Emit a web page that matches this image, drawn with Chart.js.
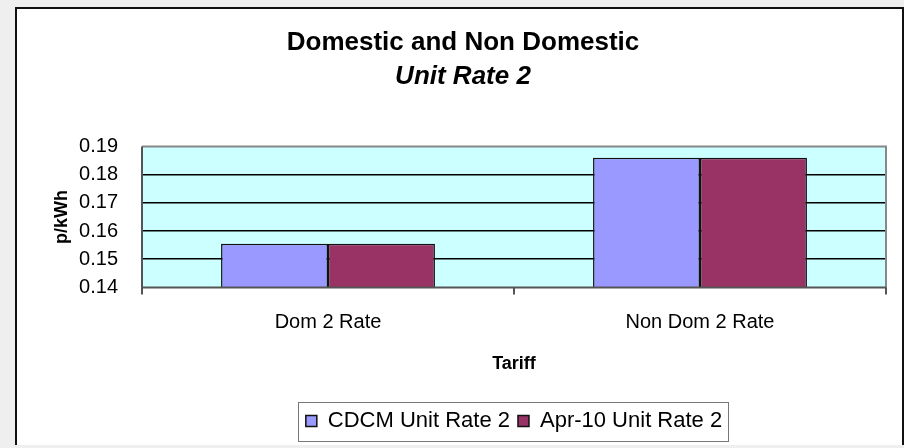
<!DOCTYPE html>
<html>
<head>
<meta charset="utf-8">
<script src="https://cdn.jsdelivr.net/npm/chart.js@4"></script>
<style>
  body { margin: 0; background: #efefef; }
  #panel { position: absolute; left: 15px; top: 7px; width: 885px; height: 436px;
           background: #fff; border: 2px solid #111; border-bottom: none; }
  #chart { position: absolute; left: 0; top: 0; }
</style>
</head>
<body>
<div id="panel"></div>
<canvas id="chart" width="904" height="448"></canvas>
<script>
const categories = ['Dom 2 Rate', 'Non Dom 2 Rate'];
const cdcmUnitRate2 = [0.1555, 0.186];
const apr10UnitRate2 = [0.1555, 0.186];
const yMin = 0.14, yMax = 0.19, yStep = 0.01;

const font = 'Liberation Sans, Arial, sans-serif';

// cyan plot area + grey frame, and a box round the legend
const plotFrame = {
    id: 'plotFrame',
    beforeDraw(chart) {
        const a = chart.chartArea, ctx = chart.ctx;
        ctx.save();
        ctx.fillStyle = '#ccffff';
        ctx.fillRect(a.left, a.top, a.right - a.left, a.bottom - a.top);
        ctx.restore();
    },
    afterDraw(chart) {
        const a = chart.chartArea, ctx = chart.ctx;
        ctx.save();
        ctx.strokeStyle = '#888';
        ctx.lineWidth = 2;
        ctx.beginPath();
        ctx.moveTo(a.left, a.top);
        ctx.lineTo(a.right, a.top);
        ctx.lineTo(a.right, a.bottom);
        ctx.stroke();
        ctx.strokeStyle = '#555';
        ctx.beginPath();
        ctx.moveTo(a.left, a.top);
        ctx.lineTo(a.left, a.bottom);
        ctx.lineTo(a.right, a.bottom);
        ctx.stroke();

        const boxes = chart.legend.legendHitBoxes;
        if (boxes && boxes.length) {
            const l = Math.min(...boxes.map(b => b.left)) - 8;
            const r = Math.max(...boxes.map(b => b.left + b.width)) + 6;
            const t = Math.min(...boxes.map(b => b.top)) - 8;
            const btm = Math.max(...boxes.map(b => b.top + b.height)) + 9;
            ctx.strokeStyle = '#777';
            ctx.lineWidth = 1;
            ctx.strokeRect(Math.round(l) + 0.5, Math.round(t) + 0.5, Math.round(r - l), Math.round(btm - t));
        }
        ctx.restore();
    }
};

new Chart(document.getElementById('chart'), {
    type: 'bar',
    data: {
        labels: categories,
        datasets: [{
            label: 'CDCM Unit Rate 2',
            data: cdcmUnitRate2,
            backgroundColor: '#9999ff',
            borderColor: '#111',
            borderWidth: 1.5
        }, {
            label: 'Apr-10 Unit Rate 2',
            data: apr10UnitRate2,
            backgroundColor: '#993366',
            borderColor: '#111',
            borderWidth: 1.5
        }]
    },
    options: {
        responsive: false,
        animation: false,
        layout: { padding: { top: 27, left: 40, right: 18, bottom: 6 } },
        datasets: { bar: { barPercentage: 1, categoryPercentage: 0.575 } },
        plugins: {
            title: {
                display: true,
                text: 'Domestic and Non Domestic',
                color: '#000',
                font: { family: font, size: 26, weight: 'bold' },
                padding: { top: 0, bottom: 3 }
            },
            subtitle: {
                display: true,
                text: 'Unit Rate 2',
                color: '#000',
                font: { family: font, size: 26, weight: 'bold', style: 'italic' },
                padding: { top: 0, bottom: 54 }
            },
            legend: {
                position: 'bottom',
                fullSize: false,
                labels: {
                    color: '#000',
                    font: { family: font, size: 22 },
                    boxWidth: 11,
                    boxHeight: 11,
                    padding: 8
                }
            },
            tooltip: { enabled: false }
        },
        scales: {
            x: {
                grid: { drawOnChartArea: false, drawTicks: true, tickLength: 7, color: '#555', lineWidth: 2 },
                border: { display: false },
                ticks: { color: '#000', font: { family: font, size: 20 }, padding: 16 },
                title: {
                    display: true,
                    text: 'Tariff',
                    color: '#000',
                    font: { family: font, size: 18, weight: 'bold' },
                    padding: { top: 3, bottom: 27 }
                }
            },
            y: {
                min: yMin,
                max: yMax,
                afterFit(scale) { scale.width = 102; },
                grid: {
                    drawTicks: false,
                    color: ctx => (ctx.index === 0 || ctx.tick.value >= yMax - 1e-9) ? 'rgba(0,0,0,0)' : '#000',
                    lineWidth: 1.5
                },
                border: { display: false },
                ticks: {
                    stepSize: yStep,
                    color: '#000',
                    font: { family: font, size: 20 },
                    padding: 24,
                    callback: v => v.toFixed(2)
                },
                title: {
                    display: true,
                    text: 'p/kWh',
                    color: '#000',
                    font: { family: font, size: 18, weight: 'bold' },
                    padding: { top: 11, bottom: 0 }
                }
            }
        }
    },
    plugins: [plotFrame]
});
</script>
</body>
</html>
